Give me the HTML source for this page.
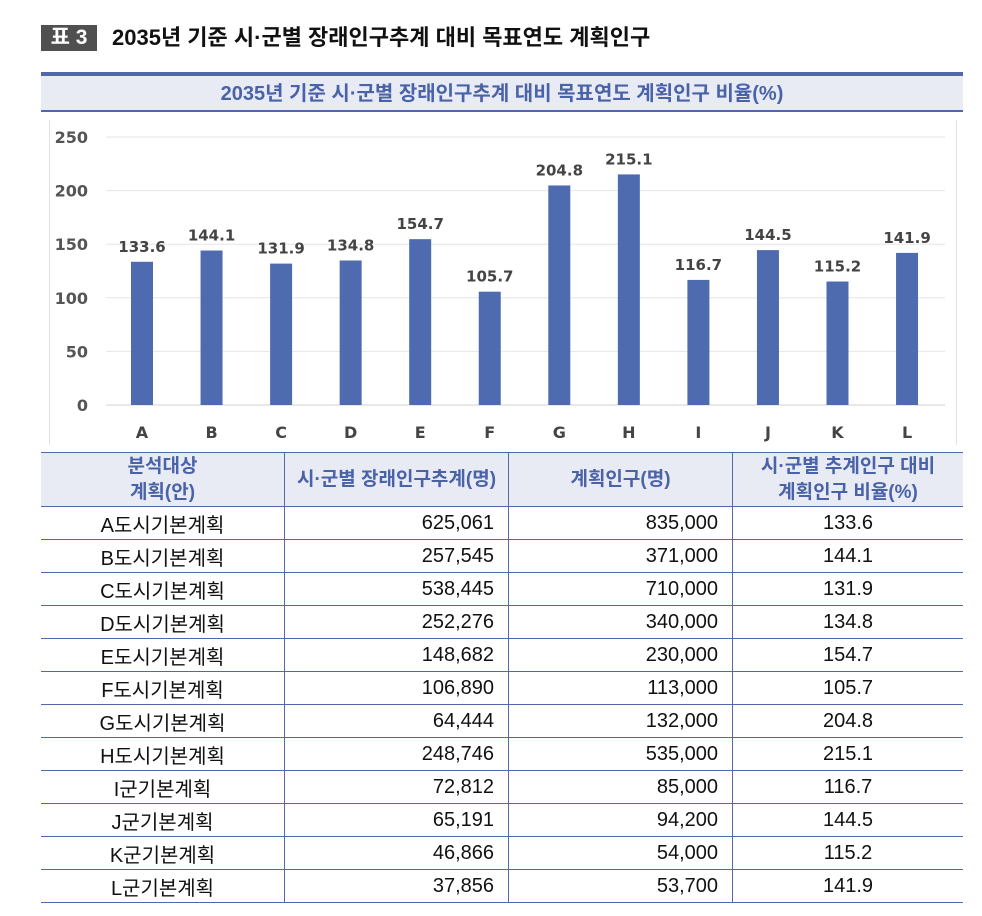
<!DOCTYPE html>
<html><head><meta charset="utf-8"><style>
body{margin:0;width:982px;height:916px;background:#fff;position:relative;overflow:hidden;font-family:"Liberation Sans","Noto Sans CJK KR",sans-serif}
.abs{position:absolute}
table{position:absolute;left:41px;top:452px;width:922px;border-collapse:collapse;font-size:20px;color:#111}
td,th{border:1px solid #4f69ad;border-left:none;border-right:1px solid #4f69ad;height:32px;padding:0}
th{background:#e8ebf4;color:#4a62a8;font-weight:bold;font-size:19px;line-height:26px;height:53px}
tr td:last-child,tr th:last-child{border-right:none}
td.n{text-align:right;padding-right:14px}
td.c{text-align:center}
</style></head><body>
<div class="abs" style="left:41px;top:25px;width:56px;height:26px;background:#505050;color:#fff;font-size:21px;font-weight:bold;line-height:26px;text-align:center">표 3</div>
<div class="abs" style="left:112px;top:24px;font-size:22px;font-weight:bold;color:#111;line-height:28px">2035년 기준 시·군별 장래인구추계 대비 목표연도 계획인구</div>
<div class="abs" style="left:41px;top:72px;width:922px;height:40px;background:#e8ebf4;border-top:4px solid #5168ad;border-bottom:2px solid #5168ad;box-sizing:border-box;text-align:center;color:#4a62a8;font-size:20px;font-weight:bold;line-height:36px">2035년 기준 시·군별 장래인구추계 대비 목표연도 계획인구 비율(%)</div>
<div class="abs" style="left:49px;top:120px;width:906px;height:325px;border-left:1px solid #e2e2e2;border-right:1px solid #e2e2e2"></div>
<svg class="abs" style="left:0;top:0" width="982" height="450" id="chart"></svg>
<table>
<tr><th style="width:243px">분석대상<br>계획(안)</th><th style="width:223px">시·군별 장래인구추계(명)</th><th style="width:223px">계획인구(명)</th><th>시·군별 추계인구 대비<br>계획인구 비율(%)</th></tr>
<tbody id="tb"></tbody>
</table>
<script>
const categories=["A","B","C","D","E","F","G","H","I","J","K","L"];
const ratios=[133.6,144.1,131.9,134.8,154.7,105.7,204.8,215.1,116.7,144.5,115.2,141.9];
const yTicks=[0,50,100,150,200,250];
const planNames=["A도시기본계획","B도시기본계획","C도시기본계획","D도시기본계획","E도시기본계획","F도시기본계획","G도시기본계획","H도시기본계획","I군기본계획","J군기본계획","K군기본계획","L군기본계획"];
const projected=["625,061","257,545","538,445","252,276","148,682","106,890","64,444","248,746","72,812","65,191","46,866","37,856"];
const planned=["835,000","371,000","710,000","340,000","230,000","113,000","132,000","535,000","85,000","94,200","54,000","53,700"];
const NS="http://www.w3.org/2000/svg";
const svg=document.getElementById('chart');
const y=v=>405-v*268/250;
const x=i=>142+i*69.55;
function mk(t,a){const e=document.createElementNS(NS,t);for(const k in a)e.setAttribute(k,a[k]);svg.appendChild(e);return e;}
yTicks.forEach(t=>{
 const l=mk('line',{x1:106,x2:945,y1:y(t),y2:y(t),stroke:t===0?'#d0d0d0':'#e6e6e6','stroke-width':1});
 
 
 const tx=mk('text',{x:88,y:y(t)+6,'text-anchor':'end','font-size':16,'font-weight':'bold',fill:'#555','font-family':'DejaVu Sans, sans-serif'});
 tx.textContent=t;
 
 
});
categories.forEach((c,i)=>{
 const v=ratios[i];
 const r=mk('rect',{x:x(i)-11,y:y(v),width:22,height:405-y(v),fill:'#4f6bb0'});
 
 
 const lb=mk('text',{x:x(i),y:y(v)-10,'text-anchor':'middle','font-size':15,'font-weight':'bold',fill:'#444','font-family':'DejaVu Sans, sans-serif'});
 lb.textContent=v.toFixed(1);
 
 
 const xl=mk('text',{x:x(i),y:438,'text-anchor':'middle','font-size':16,'font-weight':'bold',fill:'#444','font-family':'DejaVu Sans, sans-serif'});
 xl.textContent=c;
 
 
});
const tb=document.getElementById('tb');
planNames.forEach((n,i)=>{
 const tr=document.createElement('tr');
 
 
 tr.innerHTML='<td class="c">'+n+'</td><td class="n">'+projected[i]+'</td><td class="n">'+planned[i]+'</td><td class="c">'+ratios[i].toFixed(1)+'</td>';
 tb.appendChild(tr);
});
</script>
</body></html>
